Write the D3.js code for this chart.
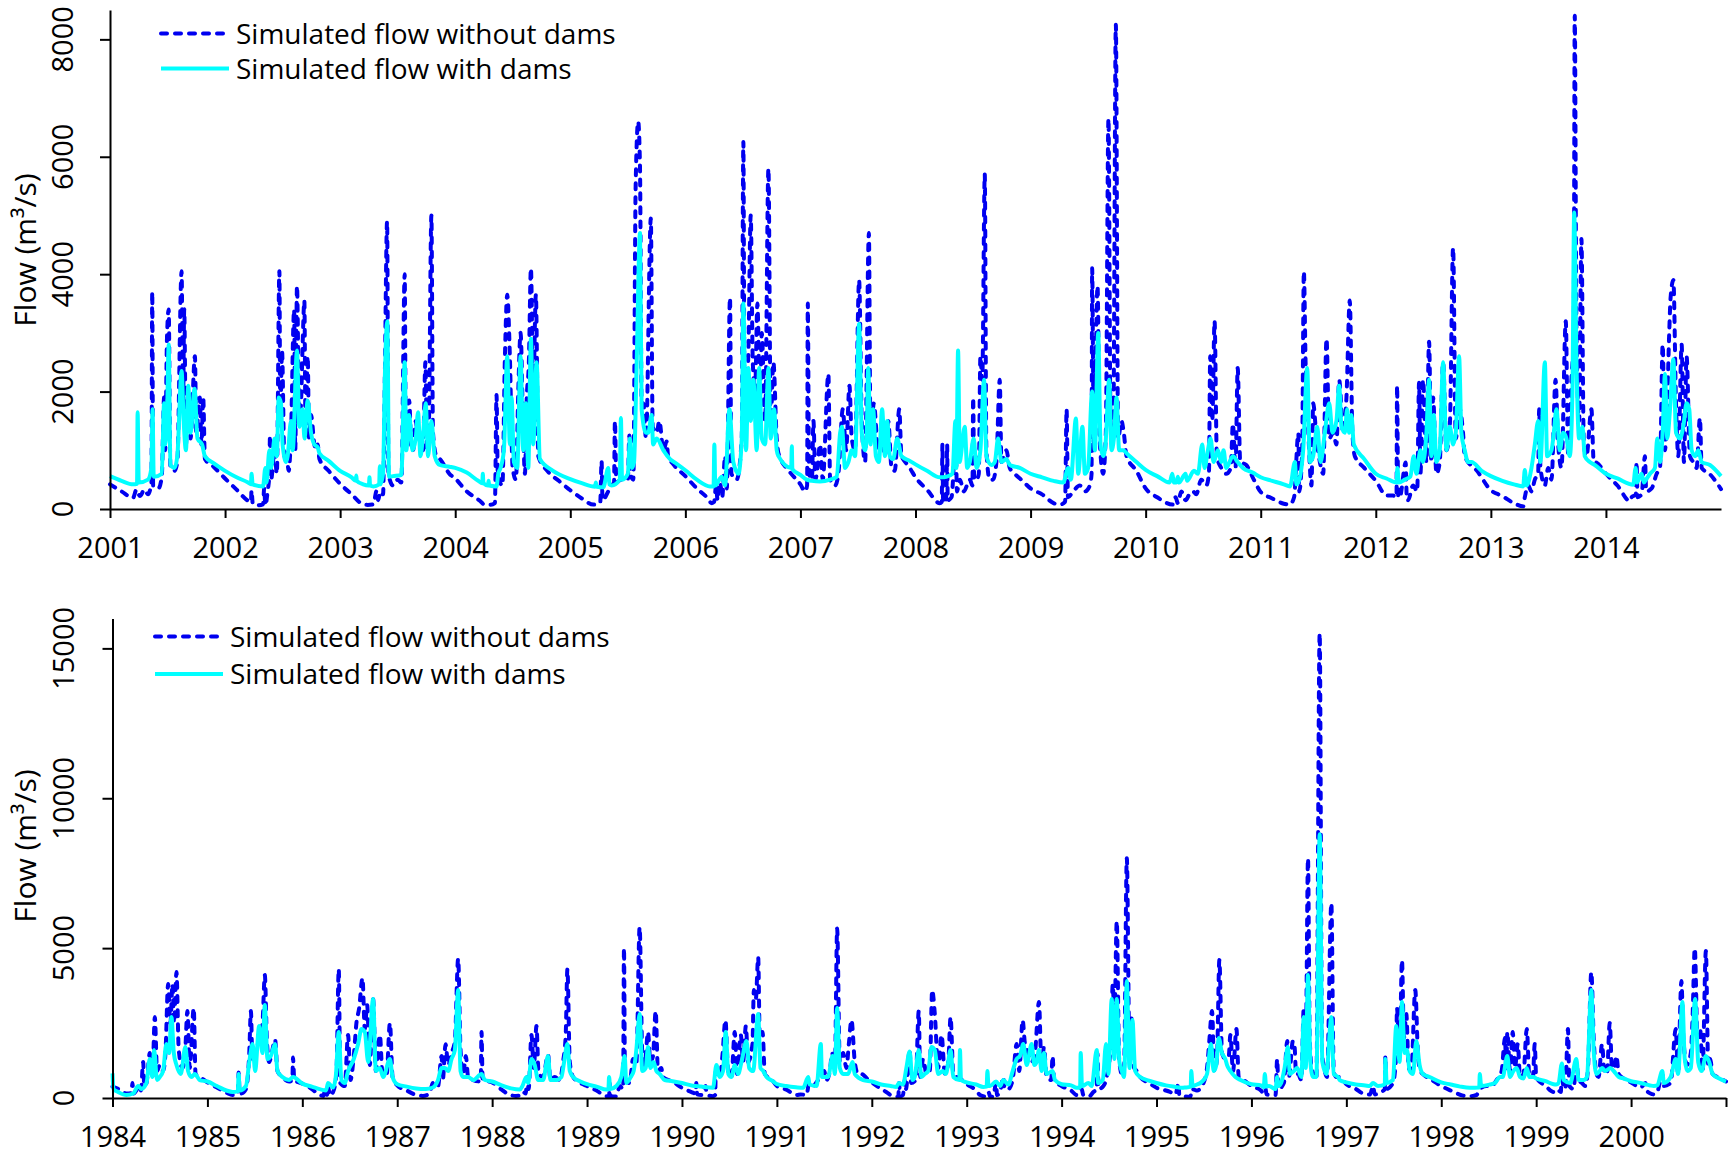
<!DOCTYPE html>
<html>
<head>
<meta charset="utf-8">
<script src="https://cdn.jsdelivr.net/npm/d3@7"></script>
<style>
  html, body { margin: 0; padding: 0; background: #ffffff; }
  svg { display: block; }
  text { font-family: "Open Sans", "Noto Sans", sans-serif; fill: #000; }
</style>
</head>
<body>
<svg id="chart" width="1728" height="1157"></svg>
<script>
// ---- Tick labels ----
const topYearTicks = [2001, 2002, 2003, 2004, 2005, 2006, 2007, 2008, 2009, 2010, 2011, 2012, 2013, 2014];
const bottomYearTicks = [1984, 1985, 1986, 1987, 1988, 1989, 1990, 1991, 1992, 1993, 1994, 1995, 1996, 1997, 1998, 1999, 2000, 2001];
const topFlowTicks = [0, 2000, 4000, 6000, 8000];
const bottomFlowTicks = [0, 5000, 10000, 15000];
const seriesNames = ["Simulated flow without dams", "Simulated flow with dams"];

// ---- Daily flow (m3/s), [decimal year, flow] — 2001-2014 ----
const topWithoutDams = [
[2001.00,420],[2001.10,300],[2001.20,190],[2001.23,330],[2001.26,220],[2001.30,330],[2001.33,250],[2001.36,450],[2001.367,3700],[2001.375,400],[2001.42,350],[2001.45,550],[2001.47,1900],[2001.48,1000],[2001.495,2900],[2001.51,3400],[2001.525,700],[2001.56,650],[2001.585,800],[2001.622,4050],[2001.635,1800],[2001.645,3400],[2001.66,1100],[2001.68,2000],[2001.70,1200],[2001.738,2600],[2001.75,1300],[2001.78,1900],[2001.795,1100],[2001.81,1900],[2001.825,850],[2001.90,720],[2002.00,520],
[2002.10,330],[2002.20,140],[2002.225,120],[2002.23,320],[2002.24,100],[2002.27,60],[2002.33,80],[2002.34,350],[2002.35,60],[2002.37,300],[2002.385,600],[2002.39,1250],[2002.40,500],[2002.43,1000],[2002.45,600],[2002.472,4050],[2002.48,1500],[2002.495,2700],[2002.515,900],[2002.53,1000],[2002.553,650],[2002.573,1300],[2002.60,3400],[2002.61,1000],[2002.625,3800],[2002.645,1500],[2002.66,1800],[2002.674,2800],[2002.689,3550],[2002.70,1200],[2002.718,2600],[2002.73,1200],[2002.747,1600],[2002.776,1100],[2002.79,1000],[2002.805,1100],[2002.82,850],[2002.90,650],[2003.00,430],
[2003.10,250],[2003.20,80],[2003.24,70],[2003.29,80],[2003.315,300],[2003.33,150],[2003.35,300],[2003.373,250],[2003.388,2200],[2003.408,4900],[2003.42,600],[2003.431,500],[2003.46,400],[2003.50,500],[2003.532,450],[2003.561,4000],[2003.57,1500],[2003.582,1700],[2003.60,1850],[2003.62,1000],[2003.634,1000],[2003.657,1500],[2003.677,1200],[2003.698,1300],[2003.72,1000],[2003.741,2500],[2003.755,1000],[2003.77,1300],[2003.793,5000],[2003.807,1300],[2003.836,900],[2003.867,850],[2003.95,600],[2004.00,520],
[2004.10,300],[2004.214,140],[2004.25,80],[2004.30,70],[2004.345,100],[2004.359,1940],[2004.37,600],[2004.41,400],[2004.432,2600],[2004.452,3650],[2004.475,2600],[2004.499,700],[2004.528,500],[2004.548,2000],[2004.568,3000],[2004.591,1300],[2004.606,600],[2004.62,1800],[2004.64,2500],[2004.658,4100],[2004.678,2000],[2004.701,3650],[2004.722,900],[2004.80,650],[2004.90,480],[2005.00,320],
[2005.10,180],[2005.20,75],[2005.26,100],[2005.272,820],[2005.28,150],[2005.33,300],[2005.36,400],[2005.38,450],[2005.388,1500],[2005.40,450],[2005.44,500],[2005.50,500],[2005.513,1250],[2005.53,550],[2005.548,500],[2005.568,5500],[2005.59,6600],[2005.606,5800],[2005.62,1800],[2005.635,1800],[2005.658,1200],[2005.70,4950],[2005.716,1400],[2005.751,1300],[2005.774,1500],[2005.809,1000],[2005.838,1150],[2005.85,900],[2005.896,760],[2006.00,560],
[2006.10,350],[2006.186,200],[2006.23,100],[2006.25,120],[2006.267,400],[2006.28,150],[2006.301,450],[2006.32,200],[2006.345,900],[2006.36,350],[2006.388,3600],[2006.40,600],[2006.446,500],[2006.49,1200],[2006.504,6250],[2006.515,1300],[2006.548,2700],[2006.568,5000],[2006.586,2500],[2006.606,2000],[2006.626,3500],[2006.649,1700],[2006.664,3000],[2006.693,1500],[2006.722,5800],[2006.742,1500],[2006.765,2500],[2006.794,1200],[2006.809,950],[2006.90,650],[2007.00,420],
[2007.04,300],[2007.058,400],[2007.064,3500],[2007.075,600],[2007.10,500],[2007.113,1500],[2007.13,500],[2007.142,600],[2007.171,1100],[2007.194,500],[2007.243,2300],[2007.258,500],[2007.301,400],[2007.33,600],[2007.368,1700],[2007.397,1000],[2007.426,2100],[2007.446,1200],[2007.475,1000],[2007.51,3900],[2007.533,1500],[2007.562,800],[2007.595,4700],[2007.609,1200],[2007.638,1800],[2007.676,1000],[2007.705,1300],[2007.734,900],[2007.763,1500],[2007.792,700],[2007.82,650],[2007.859,1700],[2007.878,900],[2007.893,850],[2007.95,700],[2008.00,540],
[2008.10,330],[2008.211,100],[2008.228,120],[2008.234,1100],[2008.24,150],[2008.26,100],[2008.269,300],[2008.275,1100],[2008.28,150],[2008.313,200],[2008.35,1200],[2008.36,300],[2008.385,500],[2008.42,300],[2008.472,500],[2008.495,400],[2008.501,1900],[2008.51,500],[2008.53,500],[2008.55,600],[2008.564,2600],[2008.58,2200],[2008.602,5700],[2008.616,1000],[2008.645,500],[2008.674,500],[2008.703,800],[2008.732,2200],[2008.747,800],[2008.79,1000],[2008.819,700],[2008.862,600],[2008.93,480],[2009.00,350],
[2009.10,250],[2009.20,100],[2009.255,75],[2009.30,120],[2009.313,1700],[2009.325,200],[2009.37,300],[2009.428,400],[2009.472,300],[2009.515,400],[2009.53,600],[2009.535,4100],[2009.55,1000],[2009.582,3800],[2009.60,1200],[2009.631,600],[2009.654,1300],[2009.677,6650],[2009.695,1500],[2009.718,1200],[2009.741,8250],[2009.761,1200],[2009.79,1500],[2009.81,1300],[2009.834,900],[2009.92,650],[2010.00,350],
[2010.10,200],[2010.237,75],[2010.26,200],[2010.28,100],[2010.31,300],[2010.347,150],[2010.38,250],[2010.411,300],[2010.44,250],[2010.483,500],[2010.527,400],[2010.55,600],[2010.561,2600],[2010.579,1500],[2010.599,3200],[2010.619,900],[2010.657,700],[2010.70,600],[2010.74,700],[2010.758,1450],[2010.781,700],[2010.80,2400],[2010.822,800],[2010.874,750],[2010.94,500],[2011.00,290],
[2011.10,180],[2011.20,90],[2011.253,75],[2011.29,200],[2011.327,1290],[2011.335,300],[2011.36,1000],[2011.375,4050],[2011.39,2500],[2011.412,1400],[2011.441,400],[2011.456,1800],[2011.485,1200],[2011.514,800],[2011.543,600],[2011.572,2900],[2011.595,1200],[2011.63,1300],[2011.658,1100],[2011.682,2200],[2011.716,1300],[2011.745,1900],[2011.774,3550],[2011.797,1300],[2011.818,900],[2011.90,700],[2012.00,480],
[2012.093,230],[2012.15,230],[2012.18,200],[2012.185,2100],[2012.195,200],[2012.208,200],[2012.26,790],[2012.27,150],[2012.281,150],[2012.324,400],[2012.36,300],[2012.376,2150],[2012.388,600],[2012.411,2200],[2012.44,800],[2012.463,2850],[2012.483,800],[2012.498,1900],[2012.527,600],[2012.556,800],[2012.585,2500],[2012.614,1000],[2012.643,1400],[2012.672,4450],[2012.695,1200],[2012.729,1700],[2012.758,1300],[2012.773,900],[2012.88,650],[2013.00,320],
[2013.10,220],[2013.20,100],[2013.281,45],[2013.295,200],[2013.324,400],[2013.353,300],[2013.382,500],[2013.411,600],[2013.42,1700],[2013.431,700],[2013.469,400],[2013.498,700],[2013.527,500],[2013.562,2200],[2013.585,1100],[2013.614,700],[2013.651,3200],[2013.672,900],[2013.70,2200],[2013.72,3000],[2013.729,8400],[2013.744,3000],[2013.767,1500],[2013.787,4600],[2013.808,1100],[2013.831,900],[2013.874,1700],[2013.894,800],[2013.918,790],[2014.00,600],
[2014.10,400],[2014.209,135],[2014.223,200],[2014.26,250],[2014.266,800],[2014.275,200],[2014.31,250],[2014.339,900],[2014.35,300],[2014.397,350],[2014.441,600],[2014.47,700],[2014.493,2800],[2014.513,1000],[2014.528,1500],[2014.55,3000],[2014.562,3600],[2014.586,3900],[2014.609,1800],[2014.629,900],[2014.658,2800],[2014.678,800],[2014.701,2600],[2014.73,900],[2014.759,800],[2014.788,700],[2014.817,1550],[2014.832,700],[2014.90,600],[2015.00,340]
];

const topWithDams = [
[2001.00,560],[2001.10,480],[2001.20,420],[2001.235,430],[2001.24,1650],[2001.25,450],[2001.33,500],[2001.36,700],[2001.37,1700],[2001.38,550],[2001.45,600],[2001.47,1800],[2001.48,1100],[2001.495,1500],[2001.51,2800],[2001.525,750],[2001.56,700],[2001.585,900],[2001.622,2350],[2001.64,1500],[2001.66,1000],[2001.68,2100],[2001.70,1300],[2001.735,2050],[2001.76,1200],[2001.80,1100],[2001.825,900],[2001.90,780],[2002.00,650],
[2002.10,540],[2002.20,450],[2002.225,420],[2002.23,600],[2002.24,420],[2002.33,385],[2002.35,700],[2002.36,450],[2002.385,1000],[2002.40,700],[2002.43,1200],[2002.45,900],[2002.466,1900],[2002.486,1800],[2002.50,1100],[2002.53,800],[2002.544,900],[2002.573,1500],[2002.588,1000],[2002.625,2700],[2002.645,1400],[2002.674,1700],[2002.69,1200],[2002.718,1850],[2002.747,1300],[2002.776,1100],[2002.805,1050],[2002.82,950],[2002.90,820],[2003.00,650],
[2003.10,540],[2003.136,480],[2003.14,570],[2003.145,480],[2003.20,420],[2003.25,400],[2003.255,540],[2003.26,400],[2003.29,385],[2003.339,420],[2003.345,730],[2003.35,420],[2003.373,600],[2003.388,2200],[2003.41,3200],[2003.425,550],[2003.46,560],[2003.532,580],[2003.561,2500],[2003.575,1000],[2003.60,1600],[2003.628,1000],[2003.657,1200],[2003.677,1650],[2003.698,900],[2003.72,1250],[2003.744,1800],[2003.764,900],[2003.793,1500],[2003.822,900],[2003.865,750],[2003.95,720],[2004.00,700],
[2004.10,620],[2004.20,480],[2004.235,440],[2004.24,600],[2004.245,440],[2004.285,400],[2004.29,480],[2004.295,400],[2004.359,385],[2004.374,600],[2004.394,700],[2004.423,1000],[2004.452,2600],[2004.475,1100],[2004.49,1900],[2004.51,800],[2004.539,700],[2004.568,2600],[2004.591,1000],[2004.614,1800],[2004.635,700],[2004.658,2900],[2004.678,1100],[2004.707,2500],[2004.736,850],[2004.85,650],[2005.00,510],
[2005.10,440],[2005.215,380],[2005.222,450],[2005.23,380],[2005.287,370],[2005.33,700],[2005.34,420],[2005.36,400],[2005.43,500],[2005.44,1550],[2005.45,500],[2005.50,600],[2005.519,1200],[2005.535,700],[2005.554,800],[2005.577,2500],[2005.606,4700],[2005.62,1700],[2005.658,1300],[2005.678,1300],[2005.707,1600],[2005.72,1100],[2005.751,1200],[2005.809,1000],[2005.867,850],[2005.925,770],[2006.00,660],
[2006.10,500],[2006.214,385],[2006.245,385],[2006.252,1100],[2006.26,400],[2006.316,550],[2006.345,400],[2006.383,1700],[2006.417,800],[2006.461,600],[2006.49,1200],[2006.504,3500],[2006.528,1000],[2006.548,2400],[2006.568,1500],[2006.591,2200],[2006.62,1000],[2006.641,2400],[2006.664,1200],[2006.693,1100],[2006.722,2400],[2006.742,1200],[2006.771,1700],[2006.794,1000],[2006.809,900],[2006.92,700],[2006.925,1070],[2006.93,680],[2007.00,580],
[2007.055,500],[2007.10,480],[2007.17,470],[2007.258,500],[2007.316,550],[2007.345,1300],[2007.36,1400],[2007.388,700],[2007.417,800],[2007.446,1000],[2007.475,900],[2007.51,3150],[2007.533,1300],[2007.562,1000],[2007.575,1200],[2007.589,2400],[2007.609,1100],[2007.632,1700],[2007.656,900],[2007.682,800],[2007.71,1700],[2007.734,900],[2007.754,1500],[2007.777,900],[2007.806,850],[2007.841,1200],[2007.878,900],[2007.95,820],[2008.00,760],
[2008.10,650],[2008.211,540],[2008.269,550],[2008.321,600],[2008.347,1500],[2008.355,700],[2008.37,2700],[2008.385,800],[2008.394,900],[2008.428,1400],[2008.449,700],[2008.472,800],[2008.506,1200],[2008.53,700],[2008.564,1000],[2008.596,2200],[2008.616,900],[2008.66,750],[2008.689,800],[2008.718,1200],[2008.747,800],[2008.79,850],[2008.819,750],[2008.906,700],[2009.00,600],
[2009.10,540],[2009.20,480],[2009.284,450],[2009.327,700],[2009.35,500],[2009.394,1540],[2009.414,600],[2009.451,1400],[2009.472,600],[2009.50,700],[2009.535,2000],[2009.559,1000],[2009.588,3000],[2009.608,1100],[2009.631,900],[2009.651,1100],[2009.683,2200],[2009.703,1000],[2009.724,1200],[2009.747,1900],[2009.77,1000],[2009.805,1000],[2009.834,950],[2009.92,800],[2010.00,665],
[2010.10,560],[2010.208,450],[2010.232,600],[2010.245,450],[2010.266,450],[2010.28,550],[2010.29,450],[2010.347,600],[2010.36,480],[2010.42,650],[2010.454,600],[2010.492,1100],[2010.512,700],[2010.541,1000],[2010.564,1200],[2010.59,800],[2010.628,1000],[2010.657,800],[2010.677,1000],[2010.70,700],[2010.758,900],[2010.80,800],[2010.845,700],[2010.93,620],[2011.00,540],
[2011.10,480],[2011.20,420],[2011.255,385],[2011.297,800],[2011.31,420],[2011.326,450],[2011.369,1000],[2011.404,2400],[2011.427,800],[2011.456,900],[2011.491,1400],[2011.52,800],[2011.557,1300],[2011.595,1800],[2011.624,1300],[2011.658,1500],[2011.682,2100],[2011.702,1400],[2011.731,1300],[2011.751,1700],[2011.768,1300],[2011.788,1600],[2011.809,1100],[2011.90,850],[2012.00,600],
[2012.093,520],[2012.18,450],[2012.188,700],[2012.20,450],[2012.252,500],[2012.30,550],[2012.33,900],[2012.353,600],[2012.388,1000],[2012.411,800],[2012.44,1300],[2012.463,2200],[2012.483,900],[2012.504,1600],[2012.527,800],[2012.556,1000],[2012.585,2500],[2012.614,1000],[2012.643,1400],[2012.672,1100],[2012.695,1300],[2012.724,2600],[2012.744,1300],[2012.773,1000],[2012.802,800],[2012.831,800],[2012.92,650],[2013.00,560],
[2013.10,480],[2013.20,420],[2013.281,385],[2013.295,665],[2013.31,400],[2013.353,700],[2013.382,1100],[2013.411,1500],[2013.431,800],[2013.469,2500],[2013.489,900],[2013.527,1000],[2013.547,1300],[2013.57,1700],[2013.599,1000],[2013.628,1300],[2013.657,1200],[2013.686,900],[2013.709,2000],[2013.724,5050],[2013.744,2500],[2013.767,1200],[2013.796,1400],[2013.816,900],[2013.86,800],[2013.903,750],[2014.00,600],
[2014.10,520],[2014.237,415],[2014.258,700],[2014.27,450],[2014.31,600],[2014.33,450],[2014.348,500],[2014.383,600],[2014.426,700],[2014.446,1200],[2014.47,800],[2014.493,1300],[2014.513,2300],[2014.533,1200],[2014.557,1700],[2014.586,2550],[2014.609,1300],[2014.643,1200],[2014.672,1400],[2014.701,1800],[2014.724,1700],[2014.745,1000],[2014.774,900],[2014.803,1000],[2014.832,800],[2014.904,750],[2015.00,560]
];

// ---- Daily flow (m3/s), [decimal year, flow] — 1984-2000 ----
const bottomWithoutDams = [
[1984.00,380],[1984.06,300],[1984.147,150],[1984.20,160],[1984.21,500],[1984.22,150],[1984.27,350],[1984.28,400],[1984.30,250],[1984.323,1200],[1984.335,400],[1984.358,500],[1984.393,1500],[1984.42,700],[1984.446,2700],[1984.47,900],[1984.498,1100],[1984.533,900],[1984.558,1500],[1984.586,3800],[1984.61,2500],[1984.632,3800],[1984.649,2500],[1984.674,4200],[1984.698,1600],[1984.737,1000],[1984.765,1500],[1984.789,2900],[1984.814,1000],[1984.856,3000],[1984.875,800],[1984.92,700],[1985.00,520],
[1985.10,350],[1985.20,180],[1985.266,100],[1985.32,120],[1985.329,850],[1985.34,150],[1985.353,150],[1985.406,300],[1985.441,1500],[1985.458,2900],[1985.475,1200],[1985.51,1500],[1985.545,2000],[1985.58,2500],[1985.605,4100],[1985.626,2000],[1985.65,1200],[1985.678,1500],[1985.713,1950],[1985.738,900],[1985.79,700],[1985.86,550],[1985.895,600],[1985.902,1350],[1985.915,600],[1986.00,480],
[1986.10,300],[1986.183,100],[1986.225,70],[1986.24,350],[1986.26,100],[1986.271,400],[1986.29,80],[1986.324,200],[1986.359,800],[1986.384,4300],[1986.40,500],[1986.447,400],[1986.482,2100],[1986.507,600],[1986.542,1400],[1986.57,2500],[1986.599,3000],[1986.634,4000],[1986.658,2300],[1986.683,3100],[1986.711,1100],[1986.746,3300],[1986.775,900],[1986.817,2100],[1986.845,800],[1986.887,750],[1986.923,2500],[1986.951,700],[1987.00,420],
[1987.10,250],[1987.20,100],[1987.27,70],[1987.34,150],[1987.375,500],[1987.396,400],[1987.43,400],[1987.467,1400],[1987.48,600],[1987.509,1790],[1987.537,1100],[1987.572,1500],[1987.607,1900],[1987.642,4650],[1987.667,1600],[1987.695,800],[1987.723,1400],[1987.747,700],[1987.80,600],[1987.88,550],[1987.888,2200],[1987.90,600],[1988.00,520],
[1988.10,280],[1988.186,100],[1988.25,70],[1988.30,80],[1988.326,200],[1988.355,150],[1988.368,700],[1988.385,300],[1988.414,2100],[1988.439,1000],[1988.467,2400],[1988.49,800],[1988.537,700],[1988.589,1450],[1988.614,600],[1988.66,700],[1988.712,600],[1988.747,1200],[1988.775,2100],[1988.793,4300],[1988.818,1200],[1988.853,700],[1988.93,500],[1989.00,400],
[1989.10,250],[1989.204,60],[1989.232,60],[1989.239,500],[1989.25,60],[1989.309,50],[1989.344,400],[1989.38,300],[1989.389,5000],[1989.40,600],[1989.449,500],[1989.484,1300],[1989.519,1100],[1989.554,5700],[1989.582,1500],[1989.607,1100],[1989.642,2200],[1989.667,1200],[1989.695,1400],[1989.723,2900],[1989.747,900],[1989.782,1000],[1989.80,700],[1989.90,550],[1990.00,340],
[1990.10,200],[1990.145,150],[1990.151,500],[1990.16,120],[1990.204,100],[1990.25,400],[1990.26,100],[1990.327,60],[1990.35,100],[1990.356,900],[1990.398,700],[1990.426,1400],[1990.458,2600],[1990.486,900],[1990.521,700],[1990.556,2200],[1990.581,800],[1990.62,2100],[1990.644,1200],[1990.673,2400],[1990.697,1200],[1990.743,1800],[1990.757,3600],[1990.778,3300],[1990.803,4700],[1990.82,2000],[1990.849,2200],[1990.873,800],[1990.95,600],[1991.00,400],
[1991.10,280],[1991.207,100],[1991.25,120],[1991.312,100],[1991.34,500],[1991.382,400],[1991.435,600],[1991.47,700],[1991.498,900],[1991.523,600],[1991.558,900],[1991.582,1500],[1991.611,1000],[1991.635,5650],[1991.663,1200],[1991.698,1500],[1991.733,1000],[1991.758,1800],[1991.786,2600],[1991.821,1200],[1991.856,800],[1991.89,800],[1991.95,650],[1992.00,520],
[1992.10,300],[1992.152,200],[1992.223,60],[1992.28,40],[1992.286,500],[1992.30,50],[1992.329,100],[1992.346,600],[1992.36,300],[1992.399,1600],[1992.415,500],[1992.463,600],[1992.495,2900],[1992.51,700],[1992.541,1300],[1992.576,800],[1992.611,900],[1992.636,3600],[1992.664,2800],[1992.70,1000],[1992.735,2100],[1992.77,800],[1992.806,1200],[1992.83,2700],[1992.859,800],[1992.894,700],[1992.929,650],[1993.00,460],
[1993.10,250],[1993.14,100],[1993.20,50],[1993.228,200],[1993.25,40],[1993.281,50],[1993.309,500],[1993.32,100],[1993.351,200],[1993.386,700],[1993.40,300],[1993.439,300],[1993.484,600],[1993.526,1800],[1993.554,900],[1993.589,2600],[1993.614,1800],[1993.649,1500],[1993.684,1200],[1993.719,1500],[1993.761,3200],[1993.789,1000],[1993.814,1700],[1993.842,700],[1993.89,600],[1993.905,1400],[1993.92,600],[1994.00,400],
[1994.10,250],[1994.158,100],[1994.211,300],[1994.229,100],[1994.292,60],[1994.335,200],[1994.37,300],[1994.377,1500],[1994.39,300],[1994.44,400],[1994.475,700],[1994.518,1800],[1994.539,3800],[1994.556,2500],[1994.581,5900],[1994.606,1300],[1994.634,800],[1994.658,1000],[1994.687,8000],[1994.715,1500],[1994.739,2700],[1994.764,1000],[1994.792,900],[1994.827,700],[1994.92,500],[1995.00,340],
[1995.10,250],[1995.144,200],[1995.20,120],[1995.232,500],[1995.24,100],[1995.268,100],[1995.30,50],[1995.356,40],[1995.373,300],[1995.426,250],[1995.479,400],[1995.532,1000],[1995.556,1900],[1995.585,2900],[1995.609,900],[1995.637,1300],[1995.662,4600],[1995.69,1500],[1995.725,1300],[1995.761,1400],[1995.778,2100],[1995.806,900],[1995.842,2300],[1995.866,700],[1995.919,600],[1996.00,400],
[1996.10,250],[1996.13,150],[1996.148,300],[1996.16,120],[1996.20,100],[1996.254,100],[1996.271,1300],[1996.285,300],[1996.342,500],[1996.377,1900],[1996.395,700],[1996.437,1900],[1996.455,1700],[1996.47,800],[1996.491,800],[1996.526,600],[1996.551,3000],[1996.572,1500],[1996.596,8000],[1996.614,2000],[1996.639,900],[1996.667,700],[1996.684,600],[1996.719,15500],[1996.744,1500],[1996.772,900],[1996.796,700],[1996.842,6500],[1996.867,900],[1996.895,700],[1996.93,700],[1997.00,460],
[1997.10,300],[1997.193,130],[1997.25,120],[1997.281,400],[1997.30,120],[1997.351,150],[1997.368,200],[1997.405,300],[1997.411,1400],[1997.42,300],[1997.491,500],[1997.526,1500],[1997.533,3000],[1997.561,1500],[1997.586,4600],[1997.607,2000],[1997.632,2800],[1997.656,1000],[1997.684,900],[1997.726,3600],[1997.754,1500],[1997.779,900],[1997.807,800],[1997.90,600],[1998.00,400],
[1998.10,250],[1998.23,80],[1998.30,60],[1998.371,100],[1998.406,300],[1998.477,400],[1998.53,400],[1998.583,600],[1998.636,900],[1998.671,2000],[1998.685,900],[1998.696,2200],[1998.724,900],[1998.753,2200],[1998.777,1000],[1998.806,1800],[1998.83,700],[1998.866,800],[1998.901,2300],[1998.929,700],[1998.965,700],[1998.985,1800],[1999.00,700],
[1999.10,400],[1999.183,200],[1999.218,300],[1999.26,200],[1999.271,1100],[1999.285,400],[1999.306,300],[1999.335,2300],[1999.35,400],[1999.394,300],[1999.423,1200],[1999.447,600],[1999.482,500],[1999.518,400],[1999.546,1000],[1999.581,4200],[1999.606,2000],[1999.634,800],[1999.658,700],[1999.694,1800],[1999.718,900],[1999.746,800],[1999.775,2500],[1999.799,1000],[1999.824,1000],[1999.845,1400],[1999.87,800],[1999.923,650],[2000.00,520],
[2000.10,350],[2000.152,500],[2000.165,250],[2000.205,150],[2000.24,120],[2000.276,200],[2000.329,800],[2000.345,400],[2000.417,500],[2000.47,2300],[2000.495,800],[2000.53,3900],[2000.551,2000],[2000.587,1100],[2000.629,1500],[2000.647,2600],[2000.671,5000],[2000.70,2000],[2000.728,2300],[2000.753,900],[2000.788,4900],[2000.813,1100],[2000.834,1300],[2000.859,800],[2000.912,700],[2001.00,550]
];

const bottomWithDams = [
[1984.00,820],[1984.01,300],[1984.06,200],[1984.147,100],[1984.218,150],[1984.27,400],[1984.305,300],[1984.358,500],[1984.393,1300],[1984.42,700],[1984.438,1600],[1984.47,600],[1984.498,700],[1984.533,900],[1984.568,1800],[1984.596,1500],[1984.621,2700],[1984.646,1500],[1984.674,1100],[1984.719,800],[1984.768,1700],[1984.796,900],[1984.832,700],[1984.867,800],[1984.919,600],[1985.00,550],
[1985.10,400],[1985.20,250],[1985.266,200],[1985.32,220],[1985.329,800],[1985.34,250],[1985.406,400],[1985.441,1200],[1985.476,1800],[1985.503,900],[1985.545,2400],[1985.58,1500],[1985.605,3100],[1985.633,1300],[1985.668,1400],[1985.713,1800],[1985.738,900],[1985.79,700],[1985.86,600],[1985.902,700],[1986.00,480],
[1986.10,380],[1986.20,280],[1986.25,250],[1986.271,500],[1986.324,350],[1986.352,700],[1986.384,2200],[1986.412,600],[1986.447,500],[1986.482,900],[1986.542,1300],[1986.588,1800],[1986.623,2300],[1986.658,2200],[1986.694,1200],[1986.746,3300],[1986.775,900],[1986.817,1000],[1986.852,700],[1986.923,1300],[1986.951,700],[1987.00,460],
[1987.10,380],[1987.20,320],[1987.30,300],[1987.375,350],[1987.43,600],[1987.467,1000],[1987.502,1000],[1987.537,900],[1987.572,1300],[1987.607,1600],[1987.642,3600],[1987.667,900],[1987.695,700],[1987.747,700],[1987.80,600],[1987.888,800],[1987.923,600],[1988.00,550],
[1988.10,420],[1988.20,320],[1988.291,280],[1988.319,400],[1988.361,700],[1988.38,500],[1988.414,1300],[1988.449,1100],[1988.484,600],[1988.537,600],[1988.589,1400],[1988.614,600],[1988.677,600],[1988.73,700],[1988.758,1200],[1988.793,1800],[1988.818,900],[1988.853,700],[1988.93,550],[1989.00,460],
[1989.10,380],[1989.204,280],[1989.225,300],[1989.232,700],[1989.245,300],[1989.309,400],[1989.361,700],[1989.396,1400],[1989.414,500],[1989.46,700],[1989.491,900],[1989.519,1600],[1989.554,2800],[1989.582,900],[1989.618,1000],[1989.642,1700],[1989.667,1000],[1989.702,1200],[1989.73,900],[1989.765,800],[1989.818,600],[1989.90,560],[1990.00,500],
[1990.10,420],[1990.20,380],[1990.327,340],[1990.363,1100],[1990.398,700],[1990.433,900],[1990.461,2200],[1990.489,800],[1990.521,700],[1990.556,1100],[1990.592,800],[1990.627,1200],[1990.68,1900],[1990.708,1000],[1990.75,900],[1990.803,2800],[1990.827,1000],[1990.856,900],[1990.891,700],[1990.95,580],[1991.00,460],
[1991.10,400],[1991.20,360],[1991.277,340],[1991.33,700],[1991.345,450],[1991.418,400],[1991.463,1800],[1991.475,700],[1991.54,700],[1991.586,1400],[1991.611,800],[1991.635,3000],[1991.663,1000],[1991.698,800],[1991.751,800],[1991.796,1200],[1991.821,800],[1991.909,600],[1992.00,550],
[1992.10,450],[1992.20,400],[1992.258,370],[1992.286,500],[1992.329,450],[1992.364,1000],[1992.399,1550],[1992.428,600],[1992.452,700],[1992.495,1600],[1992.523,700],[1992.558,800],[1992.594,900],[1992.629,1700],[1992.664,1600],[1992.70,800],[1992.746,900],[1992.781,800],[1992.83,1600],[1992.859,700],[1992.922,600],[1992.929,1600],[1992.94,600],[1993.00,520],
[1993.10,450],[1993.175,370],[1993.21,380],[1993.218,900],[1993.23,400],[1993.246,400],[1993.309,550],[1993.351,400],[1993.386,600],[1993.439,450],[1993.484,900],[1993.526,1300],[1993.561,1400],[1993.596,1800],[1993.632,1100],[1993.684,1800],[1993.712,1100],[1993.737,1200],[1993.761,1600],[1993.789,900],[1993.814,1500],[1993.842,800],[1993.905,900],[1993.93,600],[1994.00,460],
[1994.10,420],[1994.158,340],[1994.195,350],[1994.201,1500],[1994.215,400],[1994.282,500],[1994.317,400],[1994.37,1600],[1994.385,500],[1994.433,600],[1994.468,1800],[1994.493,800],[1994.528,3300],[1994.556,1300],[1994.581,3300],[1994.609,1200],[1994.634,900],[1994.658,700],[1994.687,3900],[1994.715,1000],[1994.746,2600],[1994.775,900],[1994.827,700],[1994.92,580],[1995.00,500],
[1995.10,420],[1995.20,370],[1995.268,340],[1995.303,350],[1995.36,380],[1995.366,900],[1995.38,400],[1995.426,450],[1995.461,500],[1995.496,600],[1995.532,800],[1995.574,1800],[1995.602,900],[1995.63,1100],[1995.655,2000],[1995.69,1500],[1995.725,1300],[1995.743,1100],[1995.778,900],[1995.831,700],[1995.884,600],[1996.00,460],
[1996.10,420],[1996.13,360],[1996.141,800],[1996.155,380],[1996.183,400],[1996.254,300],[1996.271,700],[1996.285,400],[1996.313,500],[1996.349,1000],[1996.384,1700],[1996.405,800],[1996.447,900],[1996.482,1000],[1996.526,700],[1996.551,2700],[1996.572,1000],[1996.596,4100],[1996.621,1200],[1996.649,700],[1996.684,700],[1996.719,8800],[1996.747,1200],[1996.789,800],[1996.842,2700],[1996.867,800],[1996.912,700],[1996.93,600],[1997.00,520],
[1997.10,450],[1997.20,420],[1997.246,400],[1997.281,500],[1997.333,400],[1997.405,450],[1997.411,1300],[1997.425,500],[1997.491,600],[1997.526,2400],[1997.561,1200],[1997.586,3200],[1997.614,1500],[1997.639,1600],[1997.667,900],[1997.702,800],[1997.737,1900],[1997.772,1100],[1997.807,800],[1997.877,700],[1998.00,520],
[1998.10,450],[1998.20,380],[1998.30,340],[1998.40,350],[1998.406,800],[1998.42,400],[1998.512,450],[1998.565,500],[1998.618,700],[1998.647,700],[1998.696,1400],[1998.724,700],[1998.76,900],[1998.795,1000],[1998.83,700],[1998.866,650],[1998.901,1000],[1998.929,700],[1998.972,700],[1999.00,650],
[1999.10,560],[1999.183,460],[1999.211,450],[1999.236,500],[1999.271,1150],[1999.29,600],[1999.359,500],[1999.423,1300],[1999.447,600],[1999.50,600],[1999.535,700],[1999.581,3600],[1999.606,1600],[1999.634,800],[1999.669,900],[1999.694,1000],[1999.729,900],[1999.782,1000],[1999.817,900],[1999.87,700],[1999.923,650],[2000.00,560],
[2000.10,500],[2000.20,420],[2000.24,400],[2000.276,420],[2000.329,900],[2000.345,500],[2000.417,700],[2000.47,1300],[2000.495,800],[2000.541,3200],[2000.565,1300],[2000.594,900],[2000.629,1000],[2000.675,3300],[2000.707,1200],[2000.742,900],[2000.788,1400],[2000.823,1200],[2000.859,800],[2000.929,650],[2001.00,550]
];

// ---- Drawing ----
const svg = d3.select("#chart");
const TICK_FONT = 29;
const LEGEND_FONT = 28;
const TITLE_FONT = 30;
const NO_DAMS_COLOR = "#0000f0";
const DAMS_COLOR = "#00ffff";

function drawPanel(p) {
  const x = d3.scaleLinear().domain(p.xDomain).range(p.xRange);
  const y = d3.scaleLinear().domain(p.yDomain).range(p.yRange);
  const g = svg.append("g");

  const line = d3.line()
    .x(d => x(d[0]))
    .y(d => y(d[1]))
    .curve(d3.curveMonotoneX);

  // flow without dams (dashed), then with dams on top
  g.append("path")
    .datum(p.noDams)
    .attr("d", line)
    .attr("fill", "none")
    .attr("stroke", NO_DAMS_COLOR)
    .attr("stroke-width", 4)
    .attr("stroke-linecap", "round")
    .attr("stroke-linejoin", "round")
    .attr("stroke-dasharray", "6,8");

  g.append("path")
    .datum(p.dams)
    .attr("d", line)
    .attr("fill", "none")
    .attr("stroke", DAMS_COLOR)
    .attr("stroke-width", 4)
    .attr("stroke-linejoin", "round");

  // x axis
  const xAxis = d3.axisBottom(x)
    .tickValues(p.xTicks)
    .tickSize(9)
    .tickSizeOuter(0)
    .tickFormat(d => (d >= p.xDomain[1] ? "" : d3.format("d")(d)));
  const gx = g.append("g")
    .attr("transform", `translate(0,${p.yRange[0]})`)
    .call(xAxis);
  gx.select(".domain").attr("stroke", "#000").attr("stroke-width", 2);
  gx.selectAll(".tick line").attr("stroke", "#000").attr("stroke-width", 2);
  gx.selectAll(".tick text")
    .attr("y", 49)
    .attr("dy", null)
    .style("font-family", '"Open Sans", sans-serif')
    .style("font-size", TICK_FONT + "px")
    .attr("fill", "#000");

  // y axis (labels drawn rotated)
  const yAxis = d3.axisLeft(y)
    .tickValues(p.yTicks)
    .tickSize(10)
    .tickSizeOuter(0)
    .tickFormat("");
  const gy = g.append("g")
    .attr("transform", `translate(${p.xRange[0]},0)`)
    .call(yAxis);
  gy.select(".domain").attr("stroke", "#000").attr("stroke-width", 2);
  gy.selectAll(".tick line").attr("stroke", "#000").attr("stroke-width", 2);

  g.selectAll(".ylab")
    .data(p.yTicks)
    .join("text")
    .attr("class", "ylab")
    .attr("transform", d => `translate(${p.yLabelX},${y(d)}) rotate(-90)`)
    .attr("text-anchor", "middle")
    .style("font-size", TICK_FONT + "px")
    .text(d => d3.format("d")(d));

  g.append("text")
    .attr("transform", `translate(${p.titleX},${p.titleY}) rotate(-90)`)
    .attr("text-anchor", "middle")
    .style("font-size", TITLE_FONT + "px")
    .text("Flow (m\u00b3/s)");

  // legend
  const lg = g.append("g");
  p.legendRows.forEach((ry, i) => {
    lg.append("line")
      .attr("x1", p.legendX[0]).attr("x2", p.legendX[1])
      .attr("y1", ry).attr("y2", ry)
      .attr("stroke", i === 0 ? NO_DAMS_COLOR : DAMS_COLOR)
      .attr("stroke-width", 4)
      .attr("stroke-linecap", i === 0 ? "round" : "butt")
      .attr("stroke-dasharray", i === 0 ? "6,8" : null);
    lg.append("text")
      .attr("x", p.legendTextX)
      .attr("y", ry + 10)
      .style("font-size", LEGEND_FONT + "px")
      .text(seriesNames[i]);
  });
}

drawPanel({
  xDomain: [2001, 2015], xRange: [110, 1721],
  yDomain: [0, 8500], yRange: [509, 10],
  xTicks: topYearTicks, yTicks: topFlowTicks,
  noDams: topWithoutDams, dams: topWithDams,
  yLabelX: 73, titleX: 36, titleY: 250,
  legendRows: [33.5, 68.5], legendX: [161, 229], legendTextX: 236
});

drawPanel({
  xDomain: [1984, 2001], xRange: [112.5, 1726],
  yDomain: [0, 16000], yRange: [1098, 618.4],
  xTicks: bottomYearTicks, yTicks: bottomFlowTicks,
  noDams: bottomWithoutDams, dams: bottomWithDams,
  yLabelX: 74, titleX: 36, titleY: 846,
  legendRows: [636.5, 674], legendX: [155, 223], legendTextX: 230
});
</script>
</body>
</html>
